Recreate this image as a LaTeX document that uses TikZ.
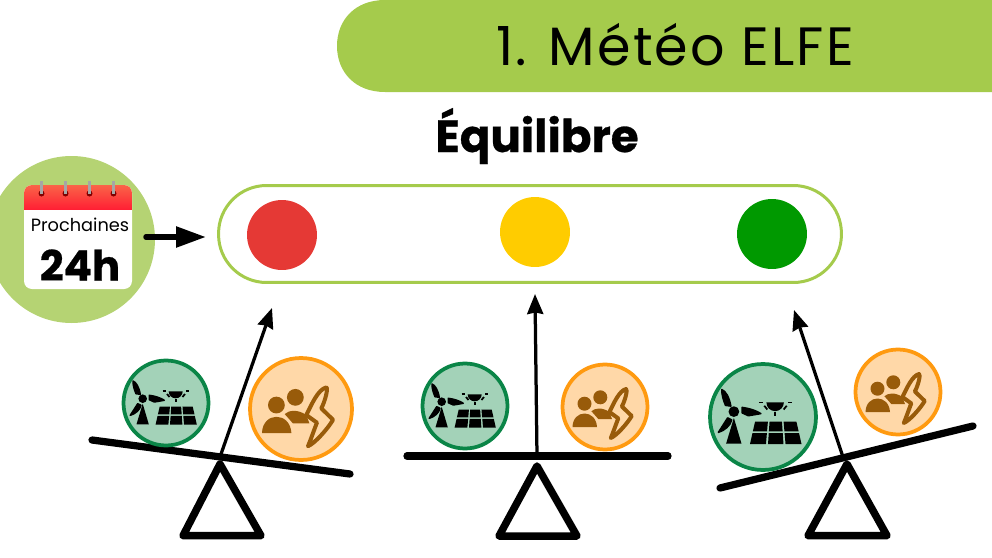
\documentclass[tikz,border=0pt]{standalone}
\usepackage{fontspec}
\setmainfont{Poppins}
\newfontfamily\titlefont[LetterSpace=4]{Poppins}
\newfontfamily\heavyfont[BoldFeatures={FakeBold=.6}]{Poppins}
\usetikzlibrary{arrows.meta,positioning,calc}

\definecolor{elfegreen}{RGB}{165, 203, 76}
\definecolor{elfelight}{RGB}{181, 211, 115}
\definecolor{prodfill}{RGB}{163, 210, 184}
\definecolor{prodline}{RGB}{10, 133, 71}
\definecolor{consofill}{RGB}{255, 216, 168}
\definecolor{consoline}{RGB}{255, 154, 16}
\definecolor{consobrown}{RGB}{152, 91, 10}
\definecolor{lampred}{RGB}{229, 57, 53}
\definecolor{lampyellow}{RGB}{255, 204, 0}
\definecolor{lampgreen}{RGB}{0, 153, 0}
\definecolor{sheettop}{RGB}{250, 100, 72}
\definecolor{sheetbottom}{RGB}{255, 32, 52}

\tikzset{
  lamp/.style={circle,inner sep=0,minimum size=1.4cm},
  prodball/.style={circle,inner sep=0,draw=prodline,fill=prodfill,line width=.075cm},
  consoball/.style={circle,inner sep=0,draw=consoline,fill=consofill,line width=.075cm},
  beam/.style={line width=.145cm,line cap=round},
  stand/.style={line width=.15cm,line join=round},
  needle/.style={line width=.065cm,-{Stealth[length=.4cm,width=.32cm,inset=.03cm]}},
  blade/.style={line width=.03cm,line join=round},
  pics/windsolar/.style={code={
    % windmill
    \fill (-23.3,-4.3) circle (4.3);
    \fill (-23.3,.7) -- (-29.5,21.3) -- (-17.2,21.3) -- cycle;
    \filldraw [blade] (-33,-22) .. controls (-30,-21) and (-27,-16) .. (-25.7,-8.7) -- (-30,-9.3) .. controls (-32,-14) and (-33,-18) .. (-33,-22) -- cycle;
    \filldraw [blade] (-16.7,-7.7) .. controls (-11,-7) and (-5,-5) .. (-1.7,-2.7) -- (-11.7,-1) -- (-16.7,-3.3) -- cycle;
    \filldraw [blade] (-35.7,12.3) -- (-28.3,.7) -- (-25,2.3) .. controls (-26,7) and (-31,11) .. (-35.7,12.3) -- cycle;
    % sun
    \fill (2.7,-11.7) arc (180:0:7) -- cycle;
    \foreach \ax/\ay/\bx/\by in {-3.3/-11.7/0/-11.7, 20/-11.7/23.3/-11.7, 1/-9/3.5/-6, 19/-9/16.5/-6, 9.7/-4/9.7/-1}
      \draw [line width=.035cm] (\ax,\ay) -- (\bx,\by);
    % panels
    \foreach \ya/\yb/\ha/\hb in {3.6/11.4/16.5/18.3, 12.8/21.6/18.6/20.6}
      \foreach \ua/\ub in {-1/-.38,-.3/.3,.38/1}
        \fill ({10.2+\ua*\ha},\ya) -- ({10.2+\ub*\ha},\ya) -- ({10.2+\ub*\hb},\yb) -- ({10.2+\ua*\hb},\yb) -- cycle;
  }},
  pics/peoplebolt/.style={code={
    \fill [consobrown] (-4.7,-9.7) circle (7);
    \fill [consobrown] (-13.6,4.2) .. controls (-10,1) and (-3,0) .. (4.4,5) -- (7,12) -- (-6.7,12) -- cycle;
    \fill [consobrown] (-20.5,-3.3) circle (7);
    \fill [consobrown] (-32.5,20) .. controls (-32,2) and (-9,2) .. (-8,20) -- cycle;
    \draw [consobrown,fill=consofill,line width=.08cm,line join=round]
      (21,-18) .. controls (14,-16) and (9,-4) .. (4.4,5) -- (13.3,11.4)
      .. controls (11,17) and (8,26) .. (5.8,31) .. controls (11,29) and (22,17) .. (26.7,9)
      -- (16.9,-.6) .. controls (20,-6) and (23,-18) .. (21,-18) -- cycle;
  }},
}

\begin{document}
\begin{tikzpicture}[x=.02cm,y=-.02cm]
    \useasboundingbox (0,0) rectangle (992,558);

    % banner
    \fill [elfegreen] (992,0) -- (385,0) .. controls (355,0) and (337,20) .. (337,46)
      .. controls (337,72) and (355,92) .. (385,92) -- (992,92) -- cycle;
    \node [anchor=base] (title) at (675,65) {\titlefont\fontsize{30.7}{30.7}\selectfont 1. Météo ELFE};
    \node (equilibre) at (537,136) {\heavyfont\fontsize{25.7}{25.7}\selectfont\bfseries Équilibre};

    % calendar
    \fill [elfelight] (71.5,239.5) circle (83.5);
    \fill [white,rounded corners=.16cm] (24,185) rectangle (132,289);
    \begin{scope}
      \clip [rounded corners=.16cm] (24,185) rectangle (132,260);
      \shade [top color=sheettop,bottom color=sheetbottom] (24,185) rectangle (132,209);
    \end{scope}
    \foreach \x in {41.5,65.5,89.5,113.5} {
      \fill [red!50!black] (\x,193.5) circle (3);
      \draw [gray!70,line width=.05cm] (\x,181) -- (\x,194);
    }
    \node (prochaines) at (80,225) {\fontsize{10.1}{10.1}\selectfont Prochaines};
    \node (duree) at (80,265) {\heavyfont\fontsize{23.8}{23.8}\selectfont\bfseries 24h};

    % traffic light
    \node [draw=elfegreen,line width=.06cm,rounded corners=.96cm,minimum width=12.46cm,minimum height=1.94cm,inner sep=0] (pill) at (530,234) {};
    \node [lamp,fill=lampred] (rouge) at (282,235) {};
    \node [lamp,fill=lampyellow] (jaune) at (535,232) {};
    \node [lamp,fill=lampgreen] (vert) at (772,234) {};
    \coordinate (agendaout) at (146,237);
    \coordinate (agendain) at (206,237);
    \draw [line width=.11cm,line cap=round,-{Triangle[length=.6cm,width=.4cm]}] (agendaout) -- (agendain);

    % left scale
    \coordinate (pivotA) at (220,457);
    \coordinate (tipA) at (272,308);
    \coordinate (beamAa) at (92,440);
    \coordinate (beamAb) at (350,474);
    \draw [stand] (220,464) -- (183,535.7) -- (261,535.7) -- cycle;
    \draw [beam] (beamAa) -- (beamAb);
    \draw [needle] (pivotA) -- (tipA);
    \node [prodball,minimum size=1.7cm] (prodA) at (166,403) {};
    \node [consoball,minimum size=2.04cm] (consoA) at (301,409) {};
    \pic at (prodA.center) {windsolar};
    \pic [scale=1.2] at (consoA.center) {peoplebolt};

    % middle scale
    \coordinate (pivotB) at (537,456);
    \coordinate (tipB) at (535,294);
    \coordinate (beamBa) at (407,456);
    \coordinate (beamBb) at (668,456);
    \draw [stand] (537,466) -- (499,536) -- (577,536) -- cycle;
    \draw [beam] (beamBa) -- (beamBb);
    \draw [needle] (pivotB) -- (tipB);
    \node [prodball,minimum size=1.7cm] (prodB) at (465,406) {};
    \node [consoball,minimum size=1.7cm] (consoB) at (605,407) {};
    \pic at (prodB.center) {windsolar};
    \pic at (consoB.center) {peoplebolt};

    % right scale
    \coordinate (pivotC) at (843,457);
    \coordinate (tipC) at (794,310);
    \coordinate (beamCa) at (720,488);
    \coordinate (beamCb) at (973,426);
    \draw [stand] (847,464) -- (808,535.7) -- (887,535.7) -- cycle;
    \draw [beam] (beamCa) -- (beamCb);
    \draw [needle] (pivotC) -- (tipC);
    \node [prodball,minimum size=2.12cm] (prodC) at (763,417) {};
    \node [consoball,minimum size=1.7cm] (consoC) at (898,392) {};
    \pic [scale=1.25] at (prodC.center) {windsolar};
    \pic at (consoC.center) {peoplebolt};
\end{tikzpicture}
\end{document}
